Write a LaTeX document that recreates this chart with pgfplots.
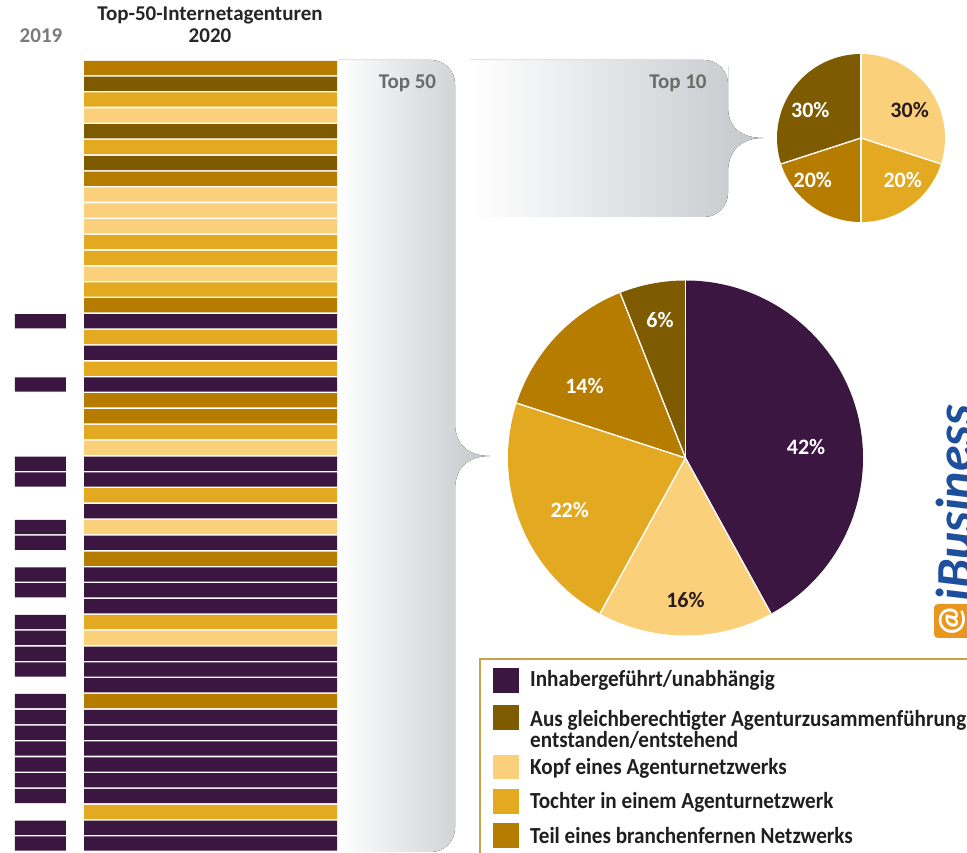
\documentclass[border=0pt]{standalone}
\usepackage{pgfplots}
\pgfplotsset{compat=1.18}
\usepackage{fontspec}
\setmainfont{Carlito}
\newfontfamily\condfont{Carlito}[FakeStretch=0.92]

\definecolor{inh}{HTML}{3B1640}
\definecolor{aus}{HTML}{7F5B00}
\definecolor{kopf}{HTML}{FAD17A}
\definecolor{toch}{HTML}{E3A921}
\definecolor{teil}{HTML}{B57C00}
\definecolor{labdark}{HTML}{2A1A1E}
\definecolor{bracket}{HTML}{C4C7CB}
\definecolor{legline}{HTML}{C9A24A}
\definecolor{logoblue}{HTML}{1D4F9C}
\definecolor{logoorange}{HTML}{E8961E}

% pie: center x, center y (pt, y up), radius, list value/fill/textcolor/label angle/label distance
\newcommand\pie[4]{%
  \xdef\ang{90}%
  \foreach \v/\c/\tc/\la/\ld in {#4} {
    \pgfmathsetmacro\endang{\ang-3.6*\v}
    \fill[\c] (#1,#2) -- ++(\ang:#3) arc[start angle=\ang, end angle=\endang, radius=#3] -- cycle;
    \path (#1,#2) ++(\la:\ld) node[text=\tc, font=\fontsize{22}{24}\selectfont\bfseries] {\v\%};
    \global\let\ang\endang
  }
  \xdef\ang{90}%
  \foreach \v/\c/\tc/\la/\ld in {#4} {
    \draw[white, line width=1.4pt] (#1,#2) -- ++(\ang:#3);
    \pgfmathsetmacro\endang{\ang-3.6*\v}
    \global\let\ang\endang
  }
}

\begin{document}
\begin{tikzpicture}
\useasboundingbox (0,0) rectangle (967pt,853pt);
\clip (0,0) rectangle (967pt,853pt);
\fill[white] (0,0) rectangle (967pt,853pt);

% brackets (pixel coordinates, y down)
\begin{scope}[x=1pt, y=-1pt, yshift=853pt]
  \fill[left color=white, right color=bracket] (338,60) [rounded corners=24pt] -- (455,60) -- (455,300) [sharp corners] -- (455,423)
    .. controls (455,446) and (470,456) .. (490,456)
    .. controls (470,456) and (455,466) .. (455,490) [rounded corners=24pt] -- (455,852) [sharp corners] -- (338,852) -- cycle;
  \fill[left color=white, right color=bracket] (470,60) [rounded corners=24pt] -- (728,60) -- (728,90) [sharp corners] -- (728,107)
    .. controls (728,128) and (742,138) .. (763,138)
    .. controls (742,138) and (728,150) .. (728,172) [rounded corners=24pt] -- (728,217) [sharp corners] -- (470,217) -- cycle;
  \node[anchor=base, text=black!58, font=\fontsize{21}{23}\selectfont\bfseries] at (407.5,89) {Top 50};
  \node[anchor=base, text=black!58, font=\fontsize{21}{23}\selectfont\bfseries] at (678,89) {Top 10};
  \node[anchor=base, text=black!85, font=\fontsize{21}{23}\selectfont\bfseries] at (210,20.5) {Top-50-Internetagenturen};
  \node[anchor=base, text=black!85, font=\fontsize{21}{23}\selectfont\bfseries] at (210,42.5) {2020};
  \node[anchor=base, text=black!52, font=\fontsize{21}{23}\selectfont\bfseries] at (41,43) {2019};
\end{scope}

% 2020 ranking, one bar per agency
\begin{axis}[at={(84pt,1.5pt)}, anchor=south west, scale only axis,
  width=253pt, height=791.5pt, xmin=0, xmax=1, ymin=0.5, ymax=50.5,
  y dir=reverse, hide axis, xbar, bar width=0.9]
  \addplot[fill=inh, draw=none, bar shift=0pt] coordinates {(1,17) (1,19) (1,21) (1,26) (1,27) (1,29) (1,31) (1,33) (1,34) (1,35) (1,38) (1,39) (1,40) (1,42) (1,43) (1,44) (1,45) (1,46) (1,47) (1,49) (1,50)};
  \addplot[fill=aus, draw=none, bar shift=0pt] coordinates {(1,2) (1,5) (1,7)};
  \addplot[fill=kopf, draw=none, bar shift=0pt] coordinates {(1,4) (1,9) (1,10) (1,11) (1,14) (1,25) (1,30) (1,37)};
  \addplot[fill=toch, draw=none, bar shift=0pt] coordinates {(1,3) (1,6) (1,12) (1,13) (1,15) (1,18) (1,20) (1,24) (1,28) (1,36) (1,48)};
  \addplot[fill=teil, draw=none, bar shift=0pt] coordinates {(1,1) (1,8) (1,16) (1,22) (1,23) (1,32) (1,41)};
\end{axis}

% 2019 column
\begin{axis}[at={(15pt,1.5pt)}, anchor=south west, scale only axis,
  width=51pt, height=791.5pt, xmin=0, xmax=1, ymin=0.5, ymax=50.5,
  y dir=reverse, hide axis, xbar, bar width=0.9]
  \addplot[fill=inh, draw=none, bar shift=0pt] coordinates {(1,17) (1,21) (1,26) (1,27) (1,30) (1,31) (1,33) (1,34) (1,36) (1,37) (1,38) (1,39) (1,41) (1,42) (1,43) (1,44) (1,45) (1,46) (1,47) (1,49) (1,50)};
\end{axis}

% pies (y up)
\begin{scope}[x=1pt, y=1pt]
  \pie{861}{715}{84}{30/kopf/labdark/29.7/56, 20/toch/white/-45/59, 20/teil/white/-138.8/64, 30/aus/white/151/58}
  \pie{685.5}{395}{177.5}{42/inh/white/5/121, 16/kopf/labdark/-90/142, 22/toch/white/-155.8/127, 14/teil/white/144.6/124, 6/aus/white/100.5/140}
  % logo
  \fill[logoorange, rounded corners=4pt] (934,853-638) rectangle (975,853-604);
  \node[rotate=90, text=white, font=\fontsize{34}{34}\selectfont\bfseries] at (952,853-621) {@};
  \node[rotate=90, anchor=north west, inner sep=0pt, text=logoblue, font=\fontsize{52}{52}\selectfont\bfseries\itshape] at (936,853-602) {iBusiness};
\end{scope}

% legend
\begin{scope}[x=1pt, y=-1pt, yshift=853pt]
  \draw[legline, line width=1.5pt] (480,900) -- (480,659) -- (1000,659);
  \fill[inh]  (493,668) rectangle (519,693);
  \fill[aus]  (493,705) rectangle (519,730);
  \fill[kopf] (493,755) rectangle (519,779);
  \fill[toch] (493,789) rectangle (519,814);
  \fill[teil] (493,823) rectangle (519,848);
  \begin{scope}[every node/.style={anchor=base west, inner sep=0pt, text=black!88, font=\condfont\bfseries\fontsize{23}{25}\selectfont}]
    \node at (530,687) {Inhabergeführt/unabhängig};
    \node at (530,727) {Aus gleichberechtigter Agenturzusammenführung};
    \node at (530,748) {entstanden/entstehend};
    \node at (530,775) {Kopf eines Agenturnetzwerks};
    \node at (530,809) {Tochter in einem Agenturnetzwerk};
    \node at (530,844) {Teil eines branchenfernen Netzwerks};
  \end{scope}
\end{scope}
\end{tikzpicture}
\end{document}
